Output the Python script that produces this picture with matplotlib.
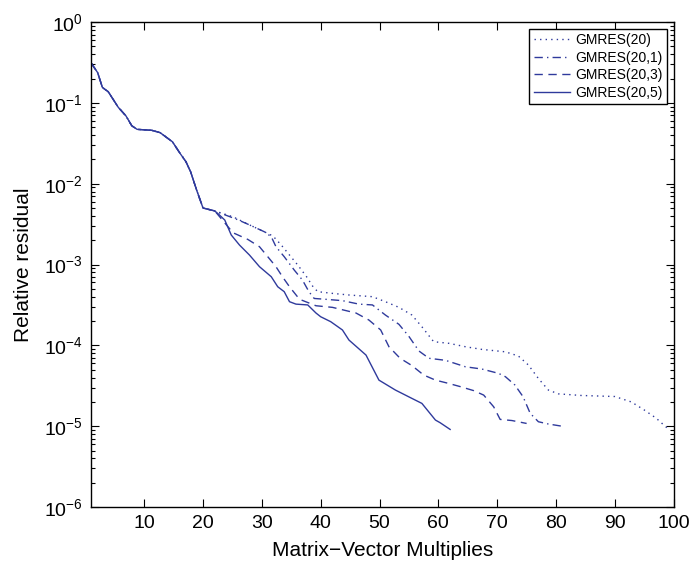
import matplotlib
matplotlib.use("Agg")
import matplotlib.pyplot as plt
from matplotlib.ticker import LogLocator, NullFormatter

plt.rcParams['font.family'] = ['Liberation Sans', 'DejaVu Sans']
plt.rcParams['mathtext.fontset'] = 'custom'
plt.rcParams['mathtext.rm'] = 'Liberation Sans'
plt.rcParams['mathtext.it'] = 'Liberation Sans'

# tramo comun a todas las curvas (hasta ~22 productos)
x_comun = [1, 2.1, 2.9, 3.9, 5.6, 6.9, 7.9, 8.8, 11.3, 12.7, 14.8, 16.1, 17.1, 17.9, 18.9, 20, 22]
y_comun = [0.31, 0.236, 0.155, 0.137, 0.088, 0.069, 0.052, 0.047, 0.0457, 0.0428, 0.033,
           0.0237, 0.0187, 0.014, 0.0084, 0.0050, 0.0046]

# GMRES(20)
x_20 = [25.1, 27.9, 30.4, 31.9, 33.3, 34.7, 36.1, 37.6, 38.7, 39.5, 42, 44.8, 48.8, 51, 53.3,
        55.5, 57.2, 59.2, 61.8, 64.6, 67.4, 71.4, 73.6, 75.3, 77, 78.7, 80.4, 84.3, 90, 92.8,
        95, 97, 99]
log_20 = [-2.41, -2.51, -2.594, -2.648, -2.759, -2.883, -3.006, -3.151, -3.275, -3.336, -3.357,
          -3.377, -3.398, -3.46, -3.53, -3.625, -3.77, -3.955, -3.975, -4.017, -4.05, -4.08,
          -4.132, -4.243, -4.41, -4.553, -4.60, -4.62, -4.633, -4.70, -4.80, -4.90, -5.03]

# GMRES(20,1)
x_201 = [22.8, 25.7, 27.9, 30.4, 31.6, 32.4, 33.8, 35.5, 36.9, 38, 38.9, 40.8, 43.7, 46.5, 48.8,
         51, 53.3, 55, 56.7, 58.4, 61.2, 64.6, 67.4, 70.2, 71.4, 73, 74.4, 75.6, 77, 78.7, 81]
log_201 = [-2.36, -2.44, -2.51, -2.594, -2.656, -2.78, -2.903, -3.068, -3.192, -3.336, -3.42,
           -3.43, -3.447, -3.49, -3.50, -3.625, -3.74, -3.89, -4.07, -4.16, -4.185, -4.265,
           -4.293, -4.346, -4.388, -4.49, -4.636, -4.84, -4.945, -4.973, -5.0]

# GMRES(20,3)
x_203 = [25.1, 27.6, 29.6, 31, 32.4, 33.5, 34.7, 36.4, 39.2, 42, 46, 48.2, 50.2, 51.6, 53.5,
         55.5, 57.5, 59.5, 61.7, 63.7, 66, 67.7, 69.4, 70.5, 72.5, 75]
log_203 = [-2.607, -2.689, -2.78, -2.903, -3.027, -3.151, -3.275, -3.43, -3.51, -3.53, -3.60,
           -3.687, -3.81, -4.017, -4.16, -4.25, -4.367, -4.43, -4.47, -4.51, -4.56, -4.615,
           -4.76, -4.916, -4.93, -4.966]

# GMRES(20,5)
x_205 = [22.8, 23.7, 24.8, 26.2, 27.9, 29.6, 31.6, 32.7, 33.8, 34.7, 35.8, 37.8, 39.2, 40,
         41.7, 43.7, 44.8, 47.7, 49.9, 52.7, 55.5, 57.2, 59.5, 60.3, 62]
log_205 = [-2.388, -2.45, -2.635, -2.759, -2.883, -3.027, -3.151, -3.275, -3.336, -3.46, -3.49,
           -3.50, -3.60, -3.646, -3.707, -3.81, -3.934, -4.12, -4.43, -4.553, -4.656, -4.718,
           -4.924, -4.957, -5.04]

series = [
    ("GMRES(20)", x_20, log_20, (0, (1, 3))),
    ("GMRES(20,1)", x_201, log_201, (0, (6, 3, 1, 3))),
    ("GMRES(20,3)", x_203, log_203, (0, (6, 4))),
    ("GMRES(20,5)", x_205, log_205, '-'),
]

color = '#2f3a9c'

fig = plt.figure(figsize=(6.91, 5.64), dpi=100)
ax = fig.add_axes([0.132, 0.101, 0.843, 0.86])

for nombre, xs, logs, estilo in series:
    xx = x_comun + xs
    yy = y_comun + [10 ** v for v in logs]
    ax.semilogy(xx, yy, linestyle=estilo, color=color, linewidth=1.0, label=nombre)

ax.set_xlim(1, 100)
ax.set_ylim(1e-6, 1)
ax.set_xticks(range(10, 101, 10))
ax.set_yticks([10.0 ** k for k in range(-6, 1)])
ax.yaxis.set_minor_locator(LogLocator(base=10, subs=range(2, 10), numticks=20))
ax.yaxis.set_minor_formatter(NullFormatter())
ax.tick_params(which='both', direction='in', top=True, right=True, labelsize=14)
ax.tick_params(which='major', length=6, width=0.8, pad=6)
ax.tick_params(which='minor', length=3, width=0.8)
for s in ax.spines.values():
    s.set_linewidth(1.0)

ax.set_xlabel("Matrix\u2212Vector Multiplies", fontsize=15, labelpad=6)
ax.set_ylabel("Relative residual", fontsize=15, labelpad=8)

leg = ax.legend(loc='upper right', fontsize=10, fancybox=False, framealpha=1,
                edgecolor='black', borderaxespad=0.5, handlelength=2.6,
                borderpad=0.3, labelspacing=0.25, handletextpad=0.4)
leg.get_frame().set_linewidth(1.0)

fig.savefig("out.png", dpi=100)
